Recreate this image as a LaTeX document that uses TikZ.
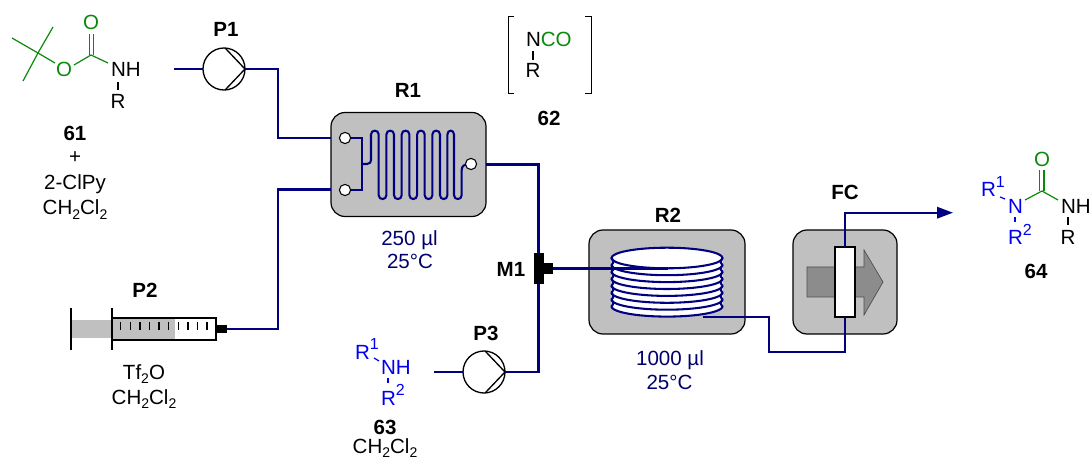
\documentclass[tikz,border=0pt]{standalone}
\usepackage{fontspec}
\setmainfont{Liberation Sans}
\usetikzlibrary{arrows.meta}
\definecolor{tubec}{HTML}{000080}
\definecolor{boxg}{HTML}{C0C0C0}
\definecolor{arrg}{HTML}{8C8C8C}
\definecolor{chemg}{HTML}{0A8A0A}
\definecolor{chemb}{HTML}{0000F0}
\newcommand{\sbs}[1]{\raisebox{-0.2em}{\fontsize{10.5}{12}\selectfont #1}}
\newcommand{\sps}[1]{\raisebox{0.48em}{\fontsize{12}{12}\selectfont #1}}
\tikzset{
  txt/.style={font=\fontsize{15.4}{18}\selectfont, inner sep=0, outer sep=0, anchor=base},
  lbl/.style={txt, font=\fontsize{15.4}{18}\selectfont\bfseries},
  cond/.style={txt, text=tubec!85!black},
  tube/.style={draw=tubec, line width=1.75pt, line join=miter},
  thin tube/.style={draw=tubec, line width=1.55pt},
  rbox/.style={draw=black, fill=boxg, line width=0.9pt, rounded corners=10.5pt, inner sep=0, outer sep=0},
  pumpc/.style={circle, draw=black, fill=white, line width=1pt, minimum size=31.5pt, inner sep=0, outer sep=0},
  port/.style={circle, draw=black, fill=white, line width=0.8pt, minimum size=8.4pt, inner sep=0, outer sep=0},
  blk/.style={fill=black, draw=none, inner sep=0, outer sep=0},
  bond/.style={line width=0.9pt},
}
\begin{document}
\begin{tikzpicture}[x=0.75pt,y=-0.75pt]
\useasboundingbox (0,0) rectangle (1091,459);

% ---- boxes
\node[rbox, minimum width=116.25pt, minimum height=78pt] (r1) at (408.5,164.5) {};
\node[rbox, minimum width=117pt, minimum height=78pt] (r2) at (667,282) {};
\node[rbox, minimum width=78pt, minimum height=78pt] (fc) at (845,282) {};

% ---- pumps
\node[pumpc] (p1) at (224,69) {};
\node[pumpc] (p3) at (484,372) {};
\foreach \p in {p1,p3}{
  \draw[line width=1pt,line join=round] (\p.87) -- (\p.east) -- (\p.-87);
}

% ---- syringe
\fill[boxg] (71,320) rectangle (112,338);
\node[draw=black, fill=white, line width=1pt, minimum width=78pt, minimum height=16.5pt, inner sep=0, outer sep=0] (barrel) at (164,329) {};
\fill[boxg] (112.7,319) rectangle (175,339.2);
\draw[line width=1pt] (71,308) -- (71,350);
\draw[line width=1pt] (112,308) -- (112,350);
\foreach \i in {0,...,9}{
  \draw[line width=0.95pt] ({120.7+9.6*\i},322) -- ({120.7+9.6*\i},330);
}
\node[blk, minimum width=8.25pt, minimum height=6pt] (tip) at (221.5,329) {};

% ---- mixer
\node[blk, minimum width=7.5pt, minimum height=23pt] (m1) at (538.5,268.5) {};
\node[blk, minimum width=8pt, minimum height=8pt] (m1s) at (547.5,268.5) {};

% ---- coil
\fill[white] plot[domain=180:360,samples=40] ({667+55.5*cos(\x)},{258-10.3*abs(sin(\x))})
  -- plot[domain=0:180,samples=40] ({667+55.5*cos(\x)},{306+10.3*sin(\x)}) -- cycle;
\draw[thin tube] (667,258) ellipse [x radius=55.5, y radius=10.3];
\foreach \k in {1,...,7}{
  \draw[thin tube, line cap=round] plot[domain=180:0,samples=40,smooth] ({667+55.5*cos(\x)},{258+6.9*\k+10.3*sin(\x)});
}
\foreach \k in {0,...,6}{
  \draw[thin tube] (611.5,{258+6.9*\k}) .. controls (614,{258+6.9*\k+4}) and (614,{258+6.9*\k+4}) .. (611.5,{258+6.9*\k+6.9});
  \draw[thin tube] (722.5,{258+6.9*\k}) .. controls (720,{258+6.9*\k+4}) and (720,{258+6.9*\k+4}) .. (722.5,{258+6.9*\k+6.9});
}

% ---- flow cell
\draw[draw=black!70, line width=0.5pt, fill=arrg] (807,267) -- (864,267) -- (864,250) -- (883,282) -- (864,315) -- (864,297) -- (807,297) -- cycle;
\node[draw=black, fill=white, line width=0.9pt, minimum width=15pt, minimum height=52.5pt, inner sep=0, outer sep=0] (cell) at (845,282) {};

% ---- free ends and bends
\coordinate (in1) at (174,69);
\coordinate (in3) at (434,372);
\coordinate (r1a) at (331,138);
\coordinate (r1b) at (331,189.5);
\coordinate (b1) at (278,69);
\coordinate (b2) at (278,329);
\coordinate (coilin) at (668,268.5);
\coordinate (coilout) at (703,316.7);
\coordinate (b3) at (769,316.7);
\coordinate (b4) at (769,352);
\coordinate (b5) at (845,212.7);
\coordinate (prod) at (953,212.7);

% ---- tubing
\draw[tube] (in1) -- (p1.west);
\draw[tube] (p1.east) -- (b1) |- (r1a);
\draw[tube] (tip.east) -- (b2) |- (r1b);
\draw[tube] (r1.east) -| (m1.north);
\draw[tube] (in3) -- (p3.west);
\draw[tube] (p3.east) -| (m1.south);
\draw[tube] (m1s.east) -- (coilin);
\draw[tube] (coilout) -- (b3) -- (b4) -| (cell.south);
\draw[tube, -{Triangle[length=12pt,width=8.5pt]}] (cell.north) -- (b5) -- (prod);

% ---- R1 channel
\coordinate (pa) at (345,138);
\coordinate (pb) at (345,190);
\coordinate (pc) at (471,164);
\draw[thin tube] (pa) -- (362,138) -- (362,190) -- (pb);
\draw[thin tube]
 (362,164) -- (367,164) .. controls (370,164) and (371,162) .. (371,160) -- (371,134.5)
 \foreach \xa/\xb/\xc in {371/378.7/386.4, 386.4/394/401.7, 401.7/409.4/417.1, 417.1/424.7/432.4, 432.4/440/447.4}{
   .. controls (\xa,129.4) and (\xb,129.4) .. (\xb,134.5) -- (\xb,195.2)
   .. controls (\xb,200.3) and (\xc,200.3) .. (\xc,195.2) -- (\xc,134.5)
 }
 .. controls (447.4,129.4) and (454,129.4) .. (454,134.5) -- (454,195.2)
 .. controls (454,200.3) and (461.7,200.3) .. (461.7,195.2) -- (461.7,170)
 .. controls (461.7,166) and (464,164) .. (pc);
\node[port] (o1) at (pa) {};
\node[port] (o2) at (pb) {};
\node[port] (o3) at (pc) {};

% ---- labels
\node[lbl] (lp1) at (226,37) {P1};
\node[lbl] (lp2) at (145,297) {P2};
\node[lbl] (lp3) at (486,340) {P3};
\node[lbl] (lr1) at (408,98) {R1};
\node[lbl] (lr2) at (668,223) {R2};
\node[lbl] (lfc) at (845,200) {FC};
\node[lbl] (lm1) at (511,277) {M1};
\node[lbl] (l62) at (549,126) {62};
\node[lbl] (l61) at (75,141) {61};
\node[lbl] (l63) at (385,434) {63};
\node[lbl] (l64) at (1036,279) {64};

\node[cond] (v1) at (409.5,246) {250 µl};
\node[cond] (t1) at (410,269) {25°C};
\node[cond] (v2) at (670,365) {1000 µl};
\node[cond] (t2) at (669.5,389) {25°C};

\node[txt] (plus) at (75,164) {+};
\node[txt] (clpy) at (75,190) {2-ClPy};
\node[txt] (s1) at (75,215) {CH\sbs{2}Cl\sbs{2}};
\node[txt] (tf) at (144,379) {Tf\sbs{2}O};
\node[txt] (s2) at (144,404) {CH\sbs{2}Cl\sbs{2}};
\node[txt] (s3) at (385,453) {CH\sbs{2}Cl\sbs{2}};

% ---- 62
\draw[line width=0.6pt] (514,16) -- (508,16) -- (508,93) -- (514,93);
\draw[line width=0.6pt] (585,16) -- (591,16) -- (591,93) -- (585,93);
\node[txt, anchor=base west] (n62) at (526,47) {N\textcolor{chemg}{CO}};
\node[txt] (r62) at (533,78) {R};
\draw[bond] (533,51) -- (533,60);

% ---- 61
\node[txt, text=chemg] (o61a) at (64,77) {O};
\node[txt, text=chemg] (o61b) at (91,30) {O};
\node[txt, anchor=base west] (nh61) at (111,77) {NH};
\node[txt] (r61) at (118,109) {R};
\draw[draw=chemg, bond] (38,53) -- (12,38);
\draw[draw=chemg, bond] (38,53) -- (53,27);
\draw[draw=chemg, bond] (38,53) -- (23,81);
\draw[draw=chemg, bond] (38,53) -- (55,63);
\draw[draw=chemg, bond] (74,65) -- (91,55) -- (108,63);
\draw[draw=chemg, bond] (89.5,55) -- (89.5,34);
\draw[draw=chemg, bond] (93.5,55) -- (93.5,34);
\draw[bond] (118,82) -- (118,90);

% ---- 63
\node[txt, text=chemb, anchor=base west] (r63a) at (355,359) {R\sps{1}};
\node[txt, text=chemb, anchor=base west] (nh63) at (381,374) {NH};
\node[txt, text=chemb, anchor=base west] (r63b) at (381,405) {R\sps{2}};
\draw[draw=chemb, bond] (374,358) -- (379,361);
\draw[draw=chemb, bond] (388,378) -- (388,383);

% ---- 64
\node[txt, text=chemb, anchor=base west] (r64a) at (981,197) {R\sps{1}};
\node[txt, text=chemb, anchor=base west] (n64) at (1008,214) {N};
\node[txt, text=chemb, anchor=base west] (r64b) at (1008,245) {R\sps{2}};
\node[txt, text=chemg] (o64) at (1042,167) {O};
\node[txt, anchor=base west] (nh64) at (1061,214) {NH};
\node[txt] (r64) at (1068,245) {R};
\draw[draw=chemb, bond] (1000,197) -- (1005,199);
\draw[draw=chemb, bond] (1015,217) -- (1015,222);
\draw[draw=chemg, bond] (1025,200) -- (1042,191) -- (1058,200);
\draw[draw=chemg, bond] (1039.7,191) -- (1039.7,170);
\draw[draw=chemg, bond] (1044,191) -- (1044,170);
\draw[bond] (1068,217) -- (1068,225);
\end{tikzpicture}
\end{document}
